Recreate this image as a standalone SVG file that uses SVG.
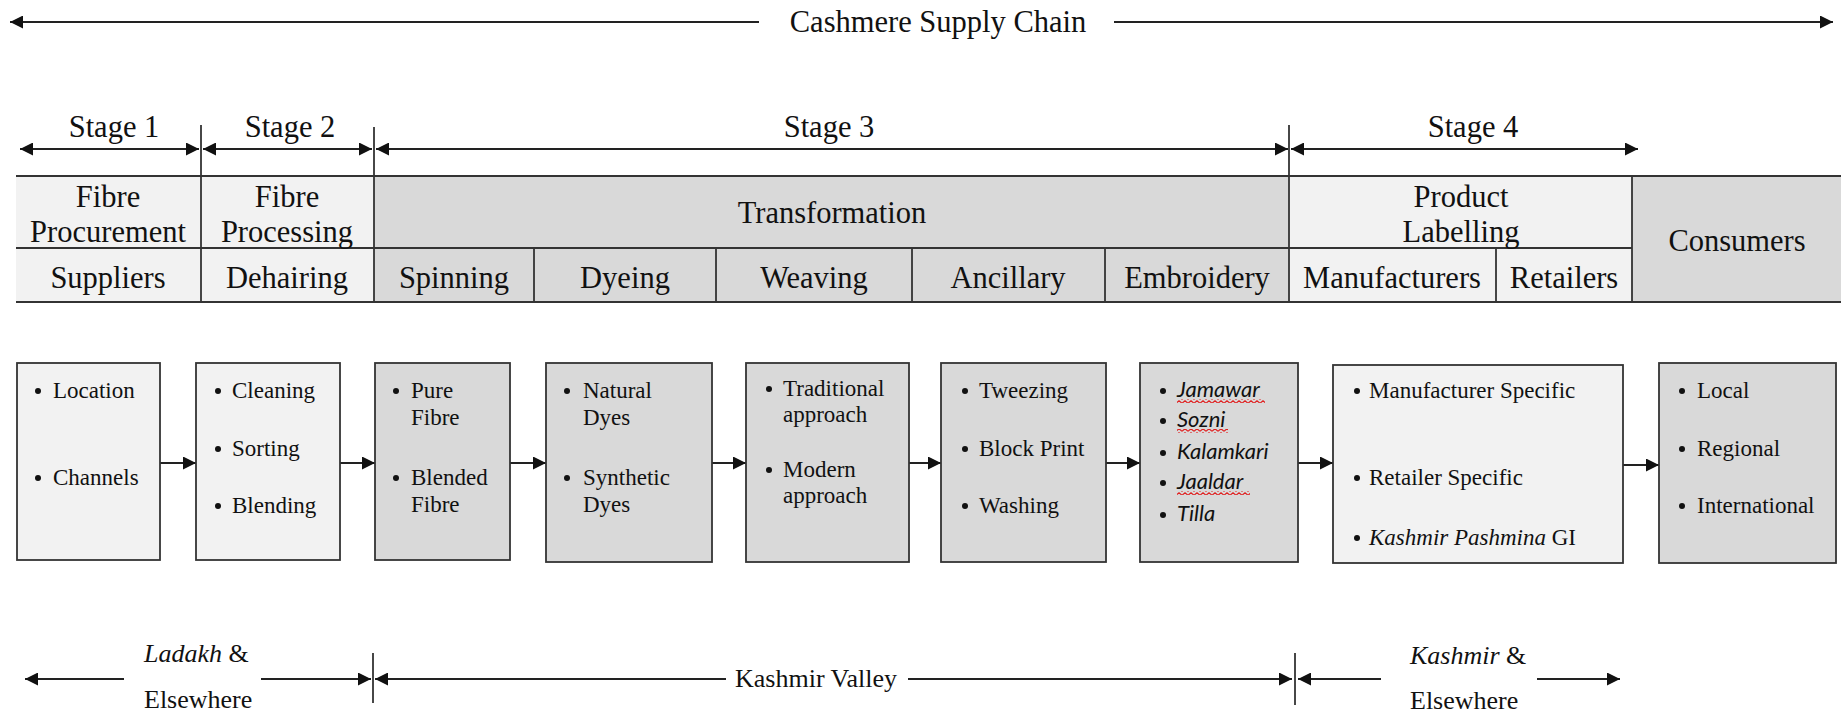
<svg xmlns="http://www.w3.org/2000/svg" width="1841" height="715" viewBox="0 0 1841 715">
  <style>
    .t { font-family: "Liberation Serif", "Times New Roman", serif; fill: #111; }
    .big { font-size: 30.5px; }
    .mid { font-size: 26px; }
    .sm { font-size: 23px; }
    .it { font-style: italic; }
    .sans { font-family: Lato, "Liberation Sans", sans-serif; font-style: italic; font-size: 22px; fill: #111; }
    .c { text-anchor: middle; }
    .ln { stroke: #222; stroke-width: 2; fill: none; }
    .grid { stroke: #333; stroke-width: 1.8; fill: none; }
    .light { fill: #f2f2f2; }
    .dark { fill: #d9d9d9; }
    .box { stroke: #333; stroke-width: 1.8; }
    .dot { fill: #111; }
  </style>
  <defs>
    <marker id="ah" viewBox="0 0 14 14" refX="14" refY="7" markerWidth="14" markerHeight="13" markerUnits="userSpaceOnUse" orient="auto-start-reverse">
      <path d="M0,0 L14,7 L0,14 Z" fill="#111"/>
    </marker>
    <pattern id="squig" x="0" y="0" width="6" height="4" patternUnits="userSpaceOnUse">
      <path d="M0,3.2 L3,0.8 L6,3.2" stroke="#e02020" stroke-width="1.1" fill="none"/>
    </pattern>
  </defs>

  <!-- title span -->
  <g id="title">
    <line class="ln" x1="10" y1="22" x2="759" y2="22" marker-start="url(#ah)"/>
    <line class="ln" x1="1114" y1="22" x2="1833" y2="22" marker-end="url(#ah)"/>
    <text class="t big c" x="938" y="32">Cashmere Supply Chain</text>
  </g>

  <!-- stage spans -->
  <g id="stages">
    <line class="ln" x1="20" y1="149" x2="199" y2="149" marker-start="url(#ah)" marker-end="url(#ah)"/>
    <line class="ln" x1="203" y1="149" x2="372" y2="149" marker-start="url(#ah)" marker-end="url(#ah)"/>
    <line class="ln" x1="376" y1="149" x2="1288" y2="149" marker-start="url(#ah)" marker-end="url(#ah)"/>
    <line class="ln" x1="1291" y1="149" x2="1638" y2="149" marker-start="url(#ah)" marker-end="url(#ah)"/>
    <text class="t big c" x="114" y="137">Stage 1</text>
    <text class="t big c" x="290" y="137">Stage 2</text>
    <text class="t big c" x="829" y="137">Stage 3</text>
    <text class="t big c" x="1473" y="137">Stage 4</text>
  </g>

  <!-- header table -->
  <g id="table">
    <rect class="light" x="16" y="176" width="185" height="72"/>
    <rect class="light" x="201" y="176" width="173" height="72"/>
    <rect class="light" x="16" y="248" width="185" height="54"/>
    <rect class="light" x="201" y="248" width="173" height="54"/>
    <rect class="dark" x="374" y="176" width="915" height="126"/>
    <rect class="light" x="1289" y="176" width="343" height="126"/>
    <rect class="dark" x="1632" y="176" width="209" height="126"/>

    <line class="grid" x1="16" y1="176" x2="1841" y2="176"/>
    <line class="grid" x1="16" y1="248" x2="1632" y2="248"/>
    <line class="grid" x1="16" y1="302" x2="1841" y2="302"/>
    <line class="grid" x1="201" y1="125" x2="201" y2="302"/>
    <line class="grid" x1="374" y1="127" x2="374" y2="302"/>
    <line class="grid" x1="1289" y1="125" x2="1289" y2="302"/>
    <line class="grid" x1="1632" y1="176" x2="1632" y2="302"/>
    <line class="grid" x1="534" y1="248" x2="534" y2="302"/>
    <line class="grid" x1="716" y1="248" x2="716" y2="302"/>
    <line class="grid" x1="912" y1="248" x2="912" y2="302"/>
    <line class="grid" x1="1105" y1="248" x2="1105" y2="302"/>
    <line class="grid" x1="1496" y1="248" x2="1496" y2="302"/>

    <g id="h-procurement"><text class="t big c" x="108" y="207">Fibre</text><text class="t big c" x="108" y="242">Procurement</text></g>
    <g id="h-processing"><text class="t big c" x="287" y="207">Fibre</text><text class="t big c" x="287" y="242">Processing</text></g>
    <g id="h-transformation"><text class="t big c" x="832" y="223">Transformation</text></g>
    <g id="h-labelling"><text class="t big c" x="1461" y="207">Product</text><text class="t big c" x="1461" y="242">Labelling</text></g>
    <g id="h-consumers"><text class="t big c" x="1737" y="251">Consumers</text></g>
    <g id="h-suppliers"><text class="t big c" x="108" y="288">Suppliers</text></g>
    <g id="h-dehairing"><text class="t big c" x="287" y="288">Dehairing</text></g>
    <g id="h-spinning"><text class="t big c" x="454" y="288">Spinning</text></g>
    <g id="h-dyeing"><text class="t big c" x="625" y="288">Dyeing</text></g>
    <g id="h-weaving"><text class="t big c" x="814" y="288">Weaving</text></g>
    <g id="h-ancillary"><text class="t big c" x="1008" y="288">Ancillary</text></g>
    <g id="h-embroidery"><text class="t big c" x="1197" y="288">Embroidery</text></g>
    <g id="h-manufacturers"><text class="t big c" x="1392" y="288">Manufacturers</text></g>
    <g id="h-retailers"><text class="t big c" x="1564" y="288">Retailers</text></g>
  </g>

  <!-- connectors between the stage boxes -->
  <g id="connectors">
    <line class="ln" x1="160" y1="463" x2="196" y2="463" marker-end="url(#ah)"/>
    <line class="ln" x1="340" y1="463" x2="375" y2="463" marker-end="url(#ah)"/>
    <line class="ln" x1="510" y1="463" x2="546" y2="463" marker-end="url(#ah)"/>
    <line class="ln" x1="712" y1="463" x2="746" y2="463" marker-end="url(#ah)"/>
    <line class="ln" x1="909" y1="463" x2="941" y2="463" marker-end="url(#ah)"/>
    <line class="ln" x1="1106" y1="463" x2="1140" y2="463" marker-end="url(#ah)"/>
    <line class="ln" x1="1298" y1="463" x2="1333" y2="463" marker-end="url(#ah)"/>
    <line class="ln" x1="1623" y1="465" x2="1659" y2="465" marker-end="url(#ah)"/>
  </g>

  <!-- stage boxes -->
  <g id="box-suppliers">
    <rect class="light box" x="17" y="363" width="143" height="197"/>
    <circle class="dot" cx="38" cy="391" r="3"/><text class="t sm" x="53" y="398">Location</text>
    <circle class="dot" cx="38" cy="478" r="3"/><text class="t sm" x="53" y="485">Channels</text>
  </g>
  <g id="box-dehairing">
    <rect class="light box" x="196" y="363" width="144" height="197"/>
    <circle class="dot" cx="218" cy="391" r="3"/><text class="t sm" x="232" y="398">Cleaning</text>
    <circle class="dot" cx="218" cy="449" r="3"/><text class="t sm" x="232" y="456">Sorting</text>
    <circle class="dot" cx="218" cy="506" r="3"/><text class="t sm" x="232" y="513">Blending</text>
  </g>
  <g id="box-spinning">
    <rect class="dark box" x="375" y="363" width="135" height="197"/>
    <circle class="dot" cx="396" cy="391" r="3"/><text class="t sm" x="411" y="398">Pure</text>
    <text class="t sm" x="411" y="425">Fibre</text>
    <circle class="dot" cx="396" cy="478" r="3"/><text class="t sm" x="411" y="485">Blended</text>
    <text class="t sm" x="411" y="512">Fibre</text>
  </g>
  <g id="box-dyeing">
    <rect class="dark box" x="546" y="363" width="166" height="199"/>
    <circle class="dot" cx="567" cy="391" r="3"/><text class="t sm" x="583" y="398">Natural</text>
    <text class="t sm" x="583" y="425">Dyes</text>
    <circle class="dot" cx="567" cy="478" r="3"/><text class="t sm" x="583" y="485">Synthetic</text>
    <text class="t sm" x="583" y="512">Dyes</text>
  </g>
  <g id="box-weaving">
    <rect class="dark box" x="746" y="363" width="163" height="199"/>
    <circle class="dot" cx="769" cy="389" r="3"/><text class="t sm" x="783" y="396">Traditional</text>
    <text class="t sm" x="783" y="422">approach</text>
    <circle class="dot" cx="769" cy="470" r="3"/><text class="t sm" x="783" y="477">Modern</text>
    <text class="t sm" x="783" y="503">approach</text>
  </g>
  <g id="box-ancillary">
    <rect class="dark box" x="941" y="363" width="165" height="199"/>
    <circle class="dot" cx="965" cy="391" r="3"/><text class="t sm" x="979" y="398">Tweezing</text>
    <circle class="dot" cx="965" cy="449" r="3"/><text class="t sm" x="979" y="456">Block Print</text>
    <circle class="dot" cx="965" cy="506" r="3"/><text class="t sm" x="979" y="513">Washing</text>
  </g>
  <g id="box-embroidery">
    <rect class="dark box" x="1140" y="363" width="158" height="199"/>
    <circle class="dot" cx="1163" cy="391" r="3"/><text class="sans" x="1177" y="397">Jamawar</text>
    <rect x="1177" y="399" width="88" height="4" fill="url(#squig)"/>
    <circle class="dot" cx="1163" cy="421" r="3"/><text class="sans" x="1177" y="427">Sozni</text>
    <rect x="1177" y="429" width="51" height="4" fill="url(#squig)"/>
    <circle class="dot" cx="1163" cy="453" r="3"/><text class="sans" x="1177" y="459">Kalamkari</text>
    <circle class="dot" cx="1163" cy="483" r="3"/><text class="sans" x="1177" y="489">Jaaldar</text>
    <rect x="1177" y="491" width="73" height="4" fill="url(#squig)"/>
    <circle class="dot" cx="1163" cy="515" r="3"/><text class="sans" x="1177" y="521">Tilla</text>
  </g>
  <g id="box-labelling">
    <rect class="light box" x="1333" y="365" width="290" height="198"/>
    <circle class="dot" cx="1357" cy="391" r="3"/><text class="t sm" x="1369" y="398">Manufacturer Specific</text>
    <circle class="dot" cx="1357" cy="478" r="3"/><text class="t sm" x="1369" y="485">Retailer Specific</text>
    <circle class="dot" cx="1357" cy="538" r="3"/><text class="t sm" x="1369" y="545"><tspan class="it">Kashmir Pashmina</tspan> GI</text>
  </g>
  <g id="box-consumers">
    <rect class="dark box" x="1659" y="363" width="177" height="200"/>
    <circle class="dot" cx="1682" cy="391" r="3"/><text class="t sm" x="1697" y="398">Local</text>
    <circle class="dot" cx="1682" cy="449" r="3"/><text class="t sm" x="1697" y="456">Regional</text>
    <circle class="dot" cx="1682" cy="506" r="3"/><text class="t sm" x="1697" y="513">International</text>
  </g>

  <!-- geography spans -->
  <g id="regions">
    <line class="ln" x1="25" y1="679" x2="124" y2="679" marker-start="url(#ah)"/>
    <line class="ln" x1="261" y1="679" x2="371" y2="679" marker-end="url(#ah)"/>
    <line class="grid" x1="373" y1="653" x2="373" y2="703"/>
    <line class="ln" x1="375" y1="679" x2="726" y2="679" marker-start="url(#ah)"/>
    <line class="ln" x1="908" y1="679" x2="1292" y2="679" marker-end="url(#ah)"/>
    <line class="grid" x1="1295" y1="653" x2="1295" y2="705"/>
    <line class="ln" x1="1298" y1="679" x2="1381" y2="679" marker-start="url(#ah)"/>
    <line class="ln" x1="1537" y1="679" x2="1620" y2="679" marker-end="url(#ah)"/>
    <text class="t mid" x="144" y="662"><tspan class="it">Ladakh</tspan> &amp;</text>
    <text class="t mid" x="144" y="708">Elsewhere</text>
    <text class="t mid" x="735" y="687">Kashmir Valley</text>
    <text class="t mid" x="1410" y="664"><tspan class="it">Kashmir</tspan> &amp;</text>
    <text class="t mid" x="1410" y="709">Elsewhere</text>
  </g>
</svg>
